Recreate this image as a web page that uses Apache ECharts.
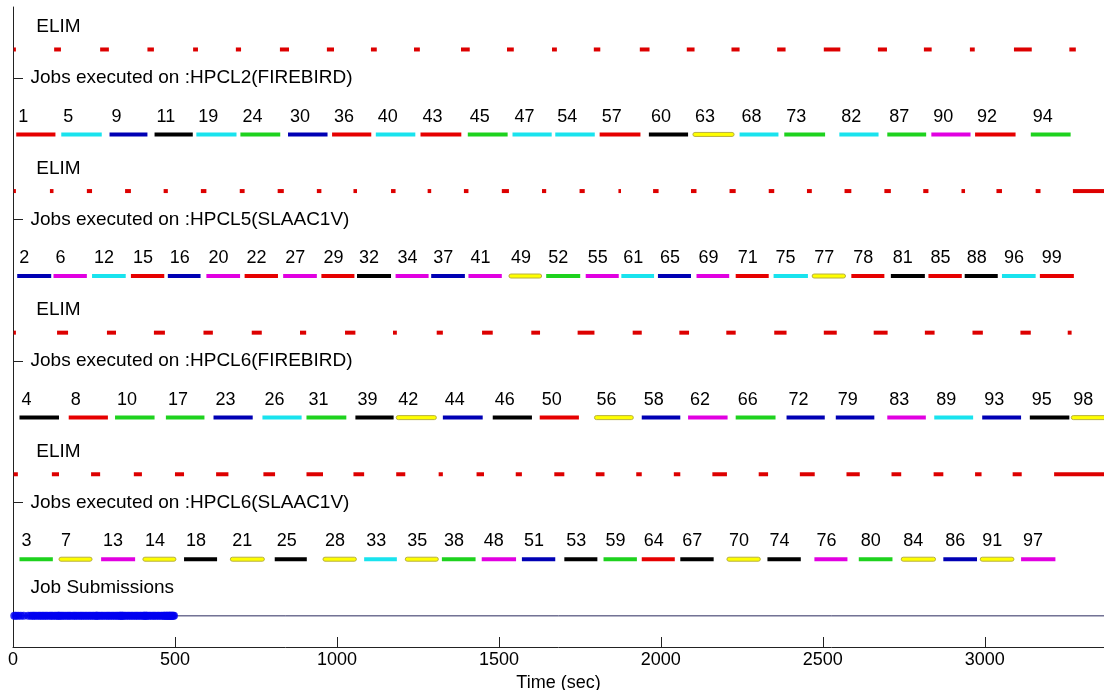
<!DOCTYPE html>
<html><head><meta charset="utf-8">
<script src="https://cdn.jsdelivr.net/npm/echarts@6/dist/echarts.min.js"></script>
<style>html,body{margin:0;padding:0;background:#fff}#c{width:1104px;height:690px}</style>
</head><body><div id="c"></div>
<script>
// ---------------- data (seconds) ----------------
const xTicks = [0, 500, 1000, 1500, 2000, 2500, 3000];
const xMax = 3368;

// HPCL2 (FIREBIRD)
const hpcl2Jobs   = [1,5,9,11,19,24,30,36,40,43,45,47,54,57,60,63,68,73,82,87,90,92,94];
const hpcl2Start  = [10,149,298,437,566,702,849,985,1120,1258,1404,1542,1674,1811,1963,2099,2243,2381,2551,2699,2835,2970,3142];
const hpcl2End    = [131,274,415,555,690,825,971,1106,1242,1384,1527,1663,1796,1937,2084,2226,2363,2507,2672,2819,2956,3095,3265];
const hpcl2Colors = ['r','c','b','k','c','g','b','r','c','r','g','c','c','r','k','y','c','g','c','g','m','r','g'];
const hpcl2ElimStart = [2,127,269,415,556,688,824,969,1105,1238,1383,1525,1664,1793,1935,2080,2218,2359,2503,2670,2812,2954,3090,3261];
const hpcl2ElimEnd   = [9,148,296,435,571,704,852,991,1123,1256,1410,1546,1679,1813,1965,2104,2243,2385,2554,2698,2836,2969,3145,3281];

// HPCL5 (SLAAC1V)
const hpcl5Jobs   = [2,6,12,15,16,20,22,27,29,32,34,37,41,49,52,55,61,65,69,71,75,77,78,81,85,88,96,99];
const hpcl5Start  = [13,125,244,364,478,597,715,834,952,1062,1181,1291,1406,1531,1646,1768,1878,1991,2110,2231,2348,2467,2588,2710,2826,2938,3053,3170];
const hpcl5End    = [118,228,348,467,579,701,818,938,1054,1167,1283,1395,1509,1632,1751,1870,1979,2093,2211,2333,2454,2570,2690,2815,2929,3040,3157,3275];
const hpcl5Colors = ['b','m','c','r','b','m','r','m','r','k','m','b','m','y','g','m','c','b','m','r','c','y','r','k','r','k','c','r'];
const hpcl5ElimStart = [2,114,228,346,465,580,700,817,938,1051,1167,1280,1392,1509,1633,1749,1869,1976,2093,2212,2333,2451,2567,2690,2810,2928,3036,3157,3272];
const hpcl5ElimEnd   = [9,125,244,364,478,597,715,836,952,1062,1181,1291,1406,1531,1646,1765,1877,1993,2110,2231,2350,2466,2588,2710,2826,2939,3053,3172,3368];

// HPCL6 (FIREBIRD)
const hpcl6fJobs   = [4,8,10,17,23,26,31,39,42,44,46,50,56,58,62,66,72,79,83,89,93,95,98];
const hpcl6fStart  = [20,172,315,472,619,770,906,1057,1183,1327,1481,1626,1795,1941,2084,2231,2388,2540,2699,2844,2992,3139,3267];
const hpcl6fEnd    = [142,293,437,591,740,891,1029,1175,1307,1450,1602,1747,1915,2060,2206,2354,2506,2659,2818,2964,3112,3261,3390];
const hpcl6fColors = ['k','r','g','g','b','c','g','k','y','b','k','r','y','b','m','g','b','b','m','c','b','k','y'];
const hpcl6fElimStart = [2,136,290,435,588,737,886,1025,1173,1308,1448,1600,1743,1913,2057,2202,2350,2503,2657,2815,2962,3110,3256];
const hpcl6fElimEnd   = [9,170,318,469,617,768,905,1057,1185,1327,1481,1627,1795,1941,2087,2231,2388,2543,2700,2845,2994,3142,3268];

// HPCL6 (SLAAC1V)
const hpcl6sJobs   = [3,7,13,14,18,21,25,28,33,35,38,48,51,53,59,64,67,70,74,76,80,84,86,91,97];
const hpcl6sStart  = [20,142,272,401,528,671,808,957,1084,1211,1324,1447,1571,1702,1823,1941,2060,2204,2329,2474,2611,2742,2872,2986,3112];
const hpcl6sEnd    = [123,244,377,503,630,776,907,1060,1185,1313,1428,1553,1674,1804,1926,2043,2163,2307,2432,2576,2715,2848,2976,3090,3218];
const hpcl6sColors = ['g','y','m','y','k','y','k','y','c','y','g','m','b','k','g','r','k','y','k','m','g','y','b','y','m'];
const hpcl6sElimStart = [2,120,241,373,500,627,773,906,1051,1183,1314,1431,1552,1671,1799,1924,2040,2159,2302,2429,2573,2712,2842,2970,3086,3214];
const hpcl6sElimEnd   = [15,142,269,398,528,665,809,957,1084,1211,1327,1454,1571,1702,1826,1941,2060,2204,2331,2475,2614,2742,2872,2990,3114,3368];

// Job submission times
const submitTimes = [4,9,16,24,33,47,55,61,66,72,79,84,90,95,101,106,113,118,123,129,134,140,146,151,156,162,168,173,178,185,190,195,201,207,212,217,223,228,234,239,245,250,256,261,266,272,277,283,289,294,299,305,310,316,321,326,332,338,343,348,354,359,365,370,376,381,386,392,397,403,408,413,419,424,430,435,440,446,451,457,462,467,473,478,483,489,494,497,468,475,482,486,491,405,412,331,337,258,141];

const machineNames = ['HPCL2(FIREBIRD)','HPCL5(SLAAC1V)','HPCL6(FIREBIRD)','HPCL6(SLAAC1V)'];

// ---------------- layout / style ----------------
const FONT = '"Liberation Sans", Arial, Helvetica, sans-serif';
const COLORS = {r:'#e60000', c:'#19e3ee', b:'#0000b4', k:'#000000', g:'#1ed21e', y:'#ffff00', m:'#e100e1'};
const ELIM_COLOR = '#dd0000';
const SUB_Y = -0.8;

const machines = [
  {jobs:hpcl2Jobs, s:hpcl2Start, e:hpcl2End, c:hpcl2Colors, es:hpcl2ElimStart, ee:hpcl2ElimEnd, level:3},
  {jobs:hpcl5Jobs, s:hpcl5Start, e:hpcl5End, c:hpcl5Colors, es:hpcl5ElimStart, ee:hpcl5ElimEnd, level:2},
  {jobs:hpcl6fJobs, s:hpcl6fStart, e:hpcl6fEnd, c:hpcl6fColors, es:hpcl6fElimStart, ee:hpcl6fElimEnd, level:1},
  {jobs:hpcl6sJobs, s:hpcl6sStart, e:hpcl6sEnd, c:hpcl6sColors, es:hpcl6sElimStart, ee:hpcl6sElimEnd, level:0}
];

const bars = [], elims = [], notes = [];
machines.forEach((m, mi) => {
  m.jobs.forEach((id, i) => bars.push({s:m.s[i], e:m.e[i], y:m.level - 0.4, id:id, c:m.c[i]}));
  m.es.forEach((s, i) => elims.push({s:s, e:m.ee[i], y:m.level + 0.2}));
  notes.push({x:72, y:m.level + 0.36, t:'ELIM'});
  notes.push({x:54, y:m.level, t:'Jobs executed on :' + machineNames[mi]});
});
notes.push({x:54, y:SUB_Y + 0.2, t:'Job Submissions'});

function renderBar(params, api) {
  const d = bars[params.dataIndex];
  const p0 = api.coord([d.s, d.y]);
  const p1 = api.coord([d.e, d.y]);
  const lp = api.coord([d.s, d.y + 0.125]);
  const isY = d.c === 'y';
  return {type:'group', children:[
    {type:'rect', shape:{x:p0[0], y:p0[1]-2, width:p1[0]-p0[0], height:4, r:isY?2:0},
     style:{fill:COLORS[d.c], stroke:isY?'#b8b040':null, lineWidth:isY?1:0}},
    {type:'text', style:{text:String(d.id), x:lp[0]+2, y:lp[1], align:'left', verticalAlign:'middle',
     fontSize:18, fontFamily:FONT, fill:'#000'}}
  ]};
}
function renderElim(params, api) {
  const d = elims[params.dataIndex];
  const p0 = api.coord([d.s, d.y]);
  const p1 = api.coord([d.e, d.y]);
  return {type:'rect', shape:{x:p0[0], y:p0[1]-2, width:Math.max(2, p1[0]-p0[0]), height:4}, style:{fill:ELIM_COLOR}};
}
function renderNote(params, api) {
  const d = notes[params.dataIndex];
  const p = api.coord([d.x, d.y]);
  return {type:'text', style:{text:d.t, x:p[0], y:p[1], align:'left', verticalAlign:'middle',
    fontSize:19, fontFamily:FONT, fill:'#000'}};
}

const chart = echarts.init(document.getElementById('c'), null, {renderer:'canvas'});
chart.setOption({
  animation:false,
  backgroundColor:'#fff',
  grid:{left:13, right:0, top:7, bottom:43, containLabel:false, outerBoundsMode:'none'},
  xAxis:{
    type:'value', min:0, max:xMax,
    name:'Time (sec)', nameLocation:'middle', nameGap:19,
    nameTextStyle:{fontSize:18, fontFamily:FONT, color:'#000'},
    axisLine:{show:true, onZero:false, lineStyle:{color:'#222', width:1}},
    axisTick:{show:true, inside:true, length:10, customValues:xTicks, lineStyle:{color:'#222'}},
    axisLabel:{show:true, customValues:xTicks, formatter:v => String(v), fontSize:18, fontFamily:FONT, color:'#000', margin:4},
    splitLine:{show:false}
  },
  yAxis:{
    type:'value', min:-1.02, max:3.5,
    axisLine:{show:true, onZero:false, lineStyle:{color:'#222', width:1}},
    axisTick:{show:true, inside:true, length:10, customValues:[0,1,2,3], lineStyle:{color:'#222'}},
    axisLabel:{show:false},
    splitLine:{show:false}
  },
  series:[
    {type:'line', data:[[0, SUB_Y],[xMax, SUB_Y]], symbol:'none', lineStyle:{color:'#2a2a5e', width:1}, z:2, silent:true},
    {type:'scatter', data:submitTimes.map(t => [t, SUB_Y]), symbol:'circle', symbolSize:8,
     itemStyle:{color:'#0000f0'}, z:3, silent:true},
    {type:'custom', renderItem:renderElim, data:elims.map(d => [d.s, d.e, d.y]), encode:{x:[0,1], y:2}, clip:true, z:3, silent:true},
    {type:'custom', renderItem:renderBar, data:bars.map(d => [d.s, d.e, d.y]), encode:{x:[0,1], y:2}, clip:true, z:4, silent:true},
    {type:'custom', renderItem:renderNote, data:notes.map(d => [d.x, d.y]), encode:{x:0, y:1}, z:5, silent:true}
  ]
});
</script></body></html>
